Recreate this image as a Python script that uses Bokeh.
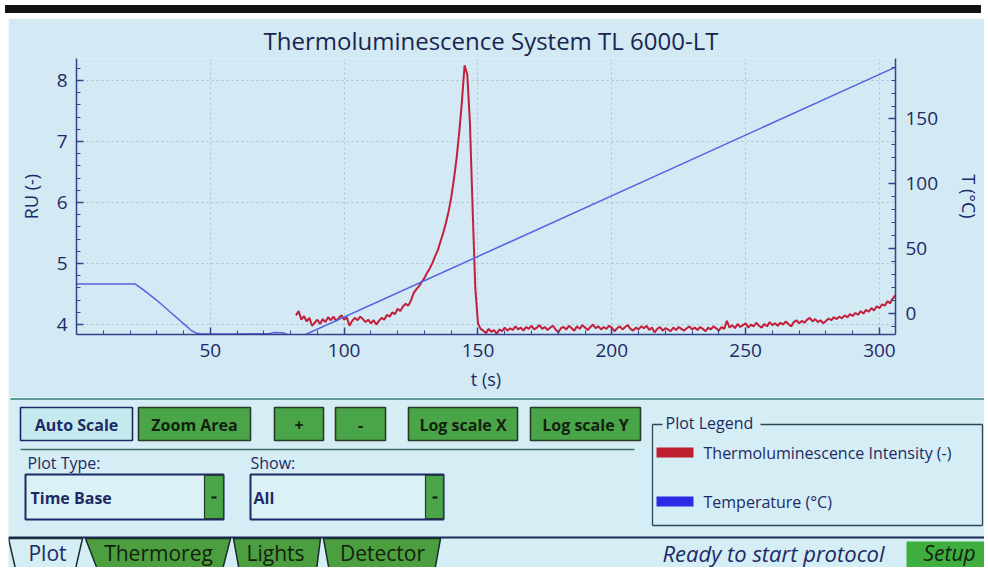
from bokeh.plotting import figure
from bokeh.models import Range1d, LinearAxis, FixedTicker, SingleIntervalTicker, Div
from bokeh.embed import file_html
from bokeh.resources import INLINE
from bokeh.core.properties import value

FONT = "Open Sans"
NAVY = "#1c2a66"
AXIS = "#34428a"
BG = "#d3e9f4"
GUI_BG = "#d5edf4"
GREEN = "#4aa548"
DARK = "#13220f"

# ---------------- data ----------------
title_text = "Thermoluminescence System TL 6000-LT"
x_ticks = [50, 100, 150, 200, 250, 300]

# temperature (deg C) vs time (s)
temp_t = [0, 22, 25, 30, 35, 40, 43, 45, 47, 60, 72, 74, 77, 79, 85, 306]
temp_c = [22.5, 22.5, 18, 10, 1, -8, -13.5, -15.5, -16, -16, -15.8, -14.8, -15, -16.5, -17, 190]

# thermoluminescence intensity (RU), one reading per second from t = 82 s
tl_start = 82
tl_values = [
    4.15, 4.22, 4.08, 4.14, 4.05, 4.11, 3.98, 4.03, 4.08, 4.01,
    4.09, 4.04, 4.12, 4.07, 4.13, 4.06, 4.11, 4.15, 4.08, 4.12,
    3.98, 4.06, 4.11, 4.07, 4.13, 4.09, 4.04, 4.08, 4.02, 4.07,
    4.00, 4.06, 4.11, 4.08, 4.16, 4.13, 4.20, 4.17, 4.26, 4.22,
    4.30, 4.34, 4.31, 4.40, 4.52, 4.58, 4.63, 4.70, 4.76, 4.85,
    4.92, 5.01, 5.12, 5.22, 5.36, 5.50, 5.66, 5.85, 6.08, 6.38,
    6.72, 7.15, 7.65, 8.25, 8.10, 7.30, 5.90, 4.60, 4.02, 3.93,
    3.90, 3.86, 3.93, 3.88, 3.91, 3.85, 3.92, 3.89, 3.95, 3.90,
    3.94, 3.91, 3.97, 3.92, 3.95, 3.90, 3.96, 3.93, 3.98, 3.92,
    3.95, 3.99, 3.93, 3.96, 3.91, 3.95, 3.98, 3.92, 3.87, 3.94,
    3.96, 3.92, 3.98, 3.94, 3.90, 3.97, 3.93, 3.99, 3.95, 3.91,
    3.96, 4.00, 3.94, 3.97, 3.92, 3.96, 3.93, 3.98, 3.95, 3.89,
    3.94, 3.97, 3.92, 3.96, 3.99, 3.93, 3.90, 3.95, 3.92, 3.97,
    3.94, 3.98, 3.91, 3.95, 3.87, 3.93, 3.96, 3.90, 3.94, 3.92,
    3.89, 3.95, 3.91, 3.96, 3.93, 3.90, 3.94, 3.97, 3.92, 3.95,
    3.91, 3.96, 3.93, 3.89, 3.95, 3.92, 3.97, 3.94, 3.90, 3.96,
    3.93, 4.06, 3.95, 3.99, 3.94, 4.01, 3.96, 3.99, 4.02, 3.95,
    4.00, 3.97, 4.03, 3.98, 3.95, 4.01, 3.97, 4.04, 3.99, 4.02,
    3.98, 4.03, 4.00, 4.05, 4.01, 3.97, 4.04, 4.07, 4.02, 4.06,
    4.03, 4.08, 4.11, 4.05, 4.09, 4.04, 4.07, 4.02, 4.06, 4.10,
    4.07, 4.12, 4.09, 4.13, 4.10, 4.15, 4.12, 4.17, 4.14, 4.19,
    4.16, 4.22, 4.18, 4.24, 4.21, 4.27, 4.23, 4.30, 4.27, 4.33,
    4.31, 4.38, 4.35, 4.43, 4.48,
]
tl_t = list(range(tl_start, tl_start + len(tl_values)))

legend_labels = ["Thermoluminescence Intensity (-)", "Temperature (°C)"]
legend_colors = ["#c01f30", "#2b2be6"]

W = 976

# ---------------- chart ----------------
p = figure(width=W, height=379, x_range=Range1d(0, 306), y_range=Range1d(3.837, 8.36),
           output_backend="svg", toolbar_location=None, margin=(0, 0, 0, 8),
           min_border_left=68, min_border_right=81, min_border_top=40, min_border_bottom=63,
           background_fill_color=BG, border_fill_color=BG, outline_line_color=None)
p.extra_y_ranges = {"temp": Range1d(-16.4, 196.7)}

p.title.text = title_text
p.title.align = "left"
p.title.offset = 187
p.title.text_font = FONT
p.title.text_font_size = "24px"
p.title.text_font_style = "normal"
p.title.text_color = "#1a2550"
p.title.standoff = 4

xt = FixedTicker(ticks=x_ticks, minor_ticks=[v for v in range(10, 306, 10)])
p.xaxis.ticker = xt
p.yaxis.ticker = SingleIntervalTicker(interval=1, num_minor_ticks=5)
p.xaxis.axis_label = "t (s)"
p.yaxis.axis_label = "RU (-)"
ax_r = LinearAxis(y_range_name="temp", ticker=SingleIntervalTicker(interval=50, num_minor_ticks=5),
                  axis_label="T (°C)")
p.add_layout(ax_r, "right")

for ax in [p.xaxis[0], p.yaxis[0], ax_r]:
    ax.major_tick_in = 7
    ax.major_tick_out = 0
    ax.minor_tick_in = 4
    ax.minor_tick_out = 0
    ax.axis_line_color = AXIS
    ax.axis_line_width = 1.5
    ax.major_tick_line_color = AXIS
    ax.major_tick_line_width = 1.5
    ax.minor_tick_line_color = AXIS
    ax.major_label_text_font = FONT
    ax.major_label_text_font_size = "19px"
    ax.major_label_text_color = NAVY
    ax.major_label_standoff = 9
    ax.axis_label_text_font = FONT
    ax.axis_label_text_font_size = "18px"
    ax.axis_label_text_font_style = "normal"
    ax.axis_label_text_color = NAVY
p.yaxis[0].axis_label_standoff = 11
p.xaxis[0].axis_label_standoff = 7
ax_r.major_label_standoff = 10
ax_r.axis_label_standoff = 16

p.xgrid.ticker = xt
p.xgrid.grid_line_color = "#a7c2d2"
p.xgrid.grid_line_dash = "2 3"
p.ygrid.grid_line_color = "#a7c2d2"
p.ygrid.grid_line_dash = "2 3"

p.line(tl_t, tl_values, line_color="#c41f3a", line_width=2)
p.line(temp_t, temp_c, y_range_name="temp", line_color="#5563e2", line_width=1.5)

# ---------------- GUI panel below the chart ----------------
GH = 170
g = figure(width=W, height=GH, x_range=Range1d(0, W), y_range=Range1d(GH, 0),
           output_backend="svg", toolbar_location=None, x_axis_type=None, y_axis_type=None,
           min_border=0, margin=(0, 0, 0, 8), background_fill_color=GUI_BG, border_fill_color=GUI_BG,
           outline_line_color=None)
g.grid.visible = False

# top border of the panel
g.segment(x0=[2], y0=[1.5], x1=[W], y1=[1.5], line_color="#5e9e9a", line_width=2)

# buttons
btn_text = ["Auto Scale", "Zoom Area", "+", "-", "Log scale X", "Log scale Y"]
btn_left = [12, 130, 266, 327, 400, 522]
btn_right = [124, 242, 315, 377, 509, 632]
btn_fill = ["#c4eaee"] + [GREEN] * 5
btn_line = [NAVY] + ["#2a3a28"] * 5
btn_tcol = [NAVY] + [DARK] * 5
g.quad(left=btn_left, right=btn_right, top=[10] * 6, bottom=[43] * 6,
       fill_color=btn_fill, line_color=btn_line, line_width=1.6)
g.text(x=[(a + b) / 2 for a, b in zip(btn_left, btn_right)], y=[27] * 6, text=btn_text,
       text_align="center", text_baseline="middle", text_font=value(FONT),
       text_font_size="16px", text_font_style="bold", text_color=btn_tcol)

g.segment(x0=[12], y0=[52], x1=[626], y1=[52], line_color="#3d6e68", line_width=1.5)

# dropdowns
g.text(x=[19, 242], y=[65, 65], text=["Plot Type:", "Show:"], text_align="left",
       text_baseline="middle", text_font=value(FONT), text_font_size="16px", text_color=NAVY)
g.quad(left=[17, 242], right=[215, 435], top=[77, 77], bottom=[122, 122],
       fill_color="#dbf1f5", line_color=NAVY, line_width=2)
g.quad(left=[196, 417], right=[215, 435], top=[78, 78], bottom=[121, 121],
       fill_color=GREEN, line_color="#2a3a28", line_width=1.2)
g.segment(x0=[203, 424], y0=[100, 100], x1=[208, 429], y1=[100, 100], line_color="#111111", line_width=2)
g.text(x=[22, 245], y=[100, 100], text=["Time Base", "All"], text_align="left",
       text_baseline="middle", text_font=value(FONT), text_font_size="16px",
       text_font_style="bold", text_color=NAVY)

# plot legend group box
g.segment(x0=[644, 752, 644, 974, 644], y0=[27, 27, 27, 27, 128],
          x1=[654, 974, 644, 974, 974], y1=[27, 27, 128, 128, 128],
          line_color="#2c4656", line_width=1.3)
g.text(x=[657], y=[25], text=["Plot Legend"], text_align="left", text_baseline="middle",
       text_font=value(FONT), text_font_size="16px", text_color=NAVY)
g.quad(left=[648, 648], right=[685, 685], top=[50, 99], bottom=[60, 109],
       fill_color=legend_colors, line_color=None)
g.text(x=[695, 695], y=[55, 104], text=legend_labels, text_align="left", text_baseline="middle",
       text_font=value(FONT), text_font_size="16px", text_color=NAVY)

# bottom tab bar
g.segment(x0=[0], y0=[140], x1=[W], y1=[140], line_color="#1a2a5a", line_width=2)
tab_names = ["Plot", "Thermoreg", "Lights", "Detector"]
tab_top_l = [0, 77, 225, 315]
tab_top_r = [74, 222, 312, 432]
tab_bot_l = [9, 92, 232, 322]
tab_bot_r = [65, 212, 307, 425]
tab_fill = [GUI_BG, "#4b9f3e", "#4b9f3e", "#4b9f3e"]
g.patches(xs=[[a, b, c, d] for a, b, c, d in zip(tab_top_l, tab_top_r, tab_bot_r, tab_bot_l)],
          ys=[[141, 141, 180, 180]] * 4, fill_color=tab_fill, line_color="#1c2c30", line_width=1.5)
g.text(x=[39, 150, 267, 374], y=[155] * 4, text=tab_names, text_align="center",
       text_baseline="middle", text_font=value(FONT), text_font_size="21px",
       text_color=[NAVY, DARK, DARK, DARK])

g.text(x=[654], y=[155], text=["Ready to start protocol"], text_align="left", text_baseline="middle",
       text_font=value(FONT), text_font_size="22px", text_font_style="italic", text_color=NAVY)
g.quad(left=[898], right=[W], top=[144], bottom=[180], fill_color="#3fae3f", line_color=None)
g.text(x=[915], y=[155], text=["Setup"], text_align="left", text_baseline="middle",
       text_font=value(FONT), text_font_size="21px", text_font_style="italic", text_color=DARK)

bar = Div(text="", width=W, height=8, styles={"background-color": "#131313"})

open("out.html", "w").write(file_html([bar, p, g], INLINE))
